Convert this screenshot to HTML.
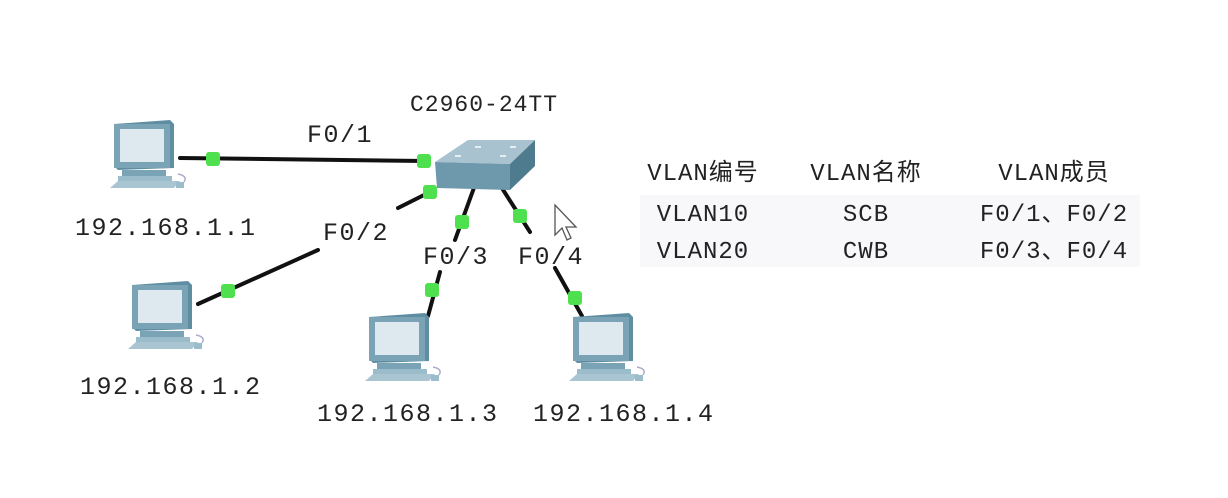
<!DOCTYPE html>
<html><head><meta charset="utf-8"><style>
body{margin:0;background:#fff;}
svg{display:block;}
text{font-family:"Liberation Mono","Noto Sans CJK SC",monospace;fill:#222;}
</style></head><body>
<svg width="1228" height="498" viewBox="0 0 1228 498" xmlns="http://www.w3.org/2000/svg">
<defs>
<g id="pc">
  <path d="M4 4 L60 0 L64 4 L64 48 L8 50 L4 46 Z" fill="#5f8ea3"/>
  <rect x="4" y="4" width="56" height="44" fill="#7aa3b6"/>
  <rect x="10" y="9" width="44" height="33" fill="#dde8ef"/>
  <rect x="12" y="50" width="44" height="6" fill="#7aa3b6"/>
  <rect x="8" y="56" width="54" height="5" fill="#9bbccb"/>
  <path d="M0 68 L8 61 L70 61 L64 68 Z" fill="#a9c5d2"/>
  <path d="M68 54 q10 2 6 8" stroke="#aac" fill="none" stroke-width="1.5"/>
  <rect x="66" y="62" width="8" height="6" fill="#9bbccb"/>
</g>
</defs>
<g stroke="#111" stroke-width="4" stroke-linecap="round">
  <line x1="180" y1="158" x2="426" y2="161"/>
  <line x1="432" y1="191" x2="398" y2="208"/>
  <line x1="318" y1="250" x2="198" y2="304"/>
  <line x1="475" y1="185" x2="455" y2="240"/>
  <line x1="440" y1="272" x2="428" y2="316"/>
  <line x1="500" y1="185" x2="530" y2="232"/>
  <line x1="555" y1="268" x2="582" y2="316"/>
</g>
<path d="M435 162 L468 140 L535 140 L510 164 Z" fill="#a8c3cf"/>
<path d="M435 162 L510 164 L510 190 L437 188 Z" fill="#6e99ad"/>
<path d="M510 164 L535 140 L535 166 L510 190 Z" fill="#4f7b8f"/>
<g fill="#e6eef2"><rect x="455" y="155" width="6" height="2"/><rect x="500" y="155" width="6" height="2"/><rect x="475" y="146" width="6" height="2"/><rect x="510" y="146" width="6" height="2"/></g>
<g fill="#4ee04e">
  <rect x="206" y="152" width="14" height="14" rx="3"/>
  <rect x="417" y="154" width="14" height="14" rx="3"/>
  <rect x="423" y="185" width="14" height="14" rx="3"/>
  <rect x="221" y="284" width="14" height="14" rx="3"/>
  <rect x="455" y="215" width="14" height="14" rx="3"/>
  <rect x="425" y="283" width="14" height="14" rx="3"/>
  <rect x="513" y="209" width="14" height="14" rx="3"/>
  <rect x="568" y="291" width="14" height="14" rx="3"/>
</g>
<path d="M555 205 L555 235 L562 228 L567 240 L571 238 L566 227 L576 227 Z" fill="#fff" stroke="#555" stroke-width="1.3"/>
<use href="#pc" x="110" y="120"/>
<use href="#pc" x="128" y="281"/>
<use href="#pc" x="365" y="313"/>
<use href="#pc" x="569" y="313"/>
<g font-size="25" letter-spacing="1.5">
<text x="75" y="235">192.168.1.1</text>
<text x="80" y="394">192.168.1.2</text>
<text x="317" y="421">192.168.1.3</text>
<text x="533" y="421">192.168.1.4</text>
<text x="307" y="142">F0/1</text>
<text x="323" y="240">F0/2</text>
<text x="423" y="264">F0/3</text>
<text x="518" y="264">F0/4</text>
<text x="410" y="111" font-size="23" letter-spacing="1">C2960-24TT</text>
</g>
<rect x="640" y="195" width="500" height="72" fill="#f8f8fa"/>
<g font-size="24" letter-spacing="1" text-anchor="middle">
<text x="703" y="180">VLAN编号</text>
<text x="866" y="180">VLAN名称</text>
<text x="1054" y="180">VLAN成员</text>
<text x="703" y="221">VLAN10</text>
<text x="866" y="221">SCB</text>
<text x="1054" y="221">F0/1、F0/2</text>
<text x="703" y="258">VLAN20</text>
<text x="866" y="258">CWB</text>
<text x="1054" y="258">F0/3、F0/4</text>
</g>
</svg>
</body></html>
